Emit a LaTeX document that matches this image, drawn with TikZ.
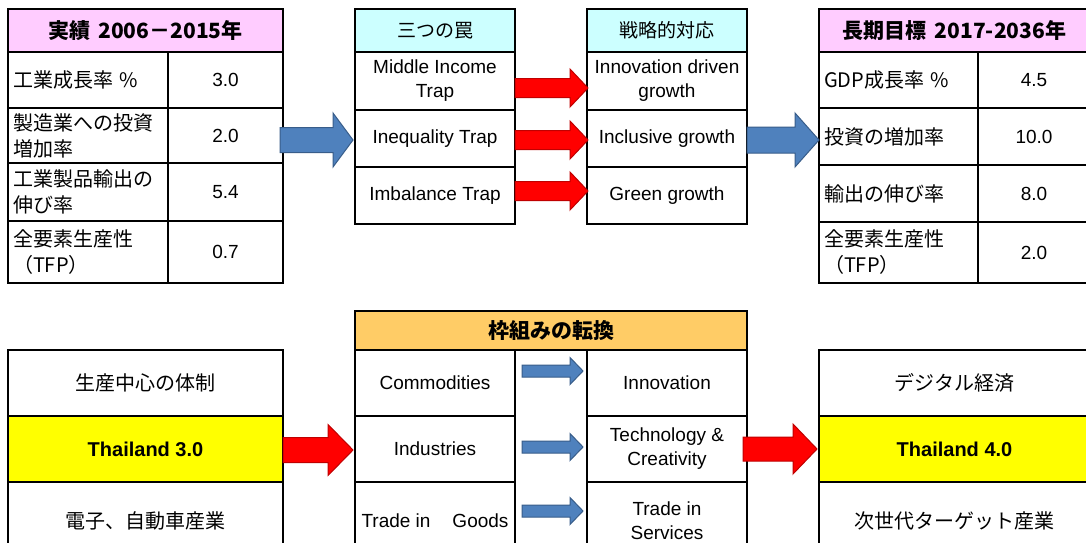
\documentclass[tikz,border=0pt]{standalone}
\usepackage{fontspec}
\setmainfont{Liberation Sans}
\newfontfamily\jp{Noto Sans CJK JP}
\definecolor{hpink}{HTML}{FFCCFF}
\definecolor{hcyan}{HTML}{CCFFFF}
\definecolor{horange}{HTML}{FFCC66}
\definecolor{hyellow}{HTML}{FFFF00}
\definecolor{bfill}{HTML}{4F81BD}
\definecolor{bdraw}{HTML}{385D8A}
\definecolor{rfill}{HTML}{FF0000}
\definecolor{rdraw}{HTML}{C00000}
\tikzset{
  cellsty/.style={draw=black,line width=1.8pt,inner sep=0pt,align=center,font=\fontsize{19}{24}\selectfont},
  jpt/.style={font=\jp\fontsize{20}{26}\selectfont},
  jph/.style={font=\jp\fontsize{19}{24}\selectfont},
  jpb/.style={font=\jp\bfseries\fontsize{21}{25}\selectfont},
  thai/.style={font=\bfseries\fontsize{20}{24}\selectfont},
  bluearr/.style={fill=bfill,draw=bdraw,line width=1pt,line join=miter},
  redarr/.style={fill=rfill,draw=rdraw,line width=1pt,line join=miter}
}
% box cell: name, x1, y1, x2, y2, options, text
\newcommand\cellbox[7]{\node[cellsty,#6,minimum width={(#4-#2)*1pt},minimum height={(#5-#3)*1pt}] (#1) at ({(#2+#4)/2},{(#3+#5)/2}) {#7};}
\newcommand\lcellbox[7]{\node[cellsty,#6,align=left,text width={(#4-#2-10)*1pt},minimum width={(#4-#2)*1pt},minimum height={(#5-#3)*1pt}] (#1) at ({(#2+#4)/2},{(#3+#5)/2}) {#7};}
% block arrow: style, x start, x end, y centre, body half, head half, head length
\newcommand\blockarrow[7]{\draw[#1] (#2,#4-#5) -- (#3-#7,#4-#5) -- (#3-#7,#4-#6) -- (#3,#4) -- (#3-#7,#4+#6) -- (#3-#7,#4+#5) -- (#2,#4+#5) -- cycle;}
\begin{document}
\begin{tikzpicture}[x=1pt,y=-1pt]
\useasboundingbox (0,0) rectangle (1086,542);
\clip (0,0) rectangle (1086,542);
\fill[white] (0,0) rectangle (1086,542);
% ---- top left table
\cellbox{lh}{8}{9}{283}{52}{fill=hpink,jpb}{実績\hspace{8pt}2006－2015年}
\lcellbox{l1}{8}{52}{168}{108}{jpt}{工業成長率 \%}
\cellbox{l1v}{168}{52}{283}{108}{}{3.0}
\lcellbox{l2}{8}{108}{168}{163}{jpt}{製造業への投資\\増加率}
\cellbox{l2v}{168}{108}{283}{163}{}{2.0}
\lcellbox{l3}{8}{163}{168}{221}{jpt}{工業製品輸出の\\伸び率}
\cellbox{l3v}{168}{163}{283}{221}{}{5.4}
\lcellbox{l4}{8}{221}{168}{283}{jpt}{全要素生産性\\（TFP）}
\cellbox{l4v}{168}{221}{283}{283}{}{0.7}
% ---- top middle
\cellbox{th}{355}{9}{515}{52}{fill=hcyan,jph}{三つの罠}
\cellbox{t1}{355}{52}{515}{110}{}{Middle Income\\Trap}
\cellbox{t2}{355}{110}{515}{167}{}{Inequality Trap}
\cellbox{t3}{355}{167}{515}{224}{}{Imbalance Trap}
\cellbox{sh}{587}{9}{747}{52}{fill=hcyan,jph}{戦略的対応}
\cellbox{s1}{587}{52}{747}{110}{}{Innovation driven\\growth}
\cellbox{s2}{587}{110}{747}{167}{}{Inclusive growth}
\cellbox{s3}{587}{167}{747}{224}{}{Green growth}
% ---- top right table
\cellbox{rh}{819}{9}{1090}{52}{fill=hpink,jpb}{長期目標\hspace{8pt}2017-2036年}
\lcellbox{r1}{819}{52}{978}{108}{jpt}{GDP成長率 \%}
\cellbox{r1v}{978}{52}{1090}{108}{}{4.5}
\lcellbox{r2}{819}{108}{978}{165}{jpt}{投資の増加率}
\cellbox{r2v}{978}{108}{1090}{165}{}{10.0}
\lcellbox{r3}{819}{165}{978}{222}{jpt}{輸出の伸び率}
\cellbox{r3v}{978}{165}{1090}{222}{}{8.0}
\lcellbox{r4}{819}{222}{978}{283}{jpt}{全要素生産性\\（TFP）}
\cellbox{r4v}{978}{222}{1090}{283}{}{2.0}
% ---- bottom left
\cellbox{b1}{8}{350}{283}{416}{jpt}{生産中心の体制}
\cellbox{b2}{8}{416}{283}{482}{fill=hyellow,thai}{Thailand 3.0}
\cellbox{b3}{8}{482}{283}{560}{jpt}{電子、自動車産業}
% ---- bottom middle
\cellbox{fh}{355}{311}{747}{350}{fill=horange,jpb}{枠組みの転換}
\cellbox{f1}{355}{350}{515}{416}{}{Commodities}
\cellbox{f2}{355}{416}{515}{482}{}{Industries}
\cellbox{f3}{355}{482}{515}{560}{}{Trade in\hspace{22pt}Goods}
\cellbox{g1}{587}{350}{747}{416}{}{Innovation}
\cellbox{g2}{587}{416}{747}{482}{}{Technology \&\\Creativity}
\cellbox{g3}{587}{482}{747}{560}{}{Trade in\\Services}
% ---- bottom right
\cellbox{c1}{819}{350}{1090}{416}{jpt}{デジタル経済}
\cellbox{c2}{819}{416}{1090}{482}{fill=hyellow,thai}{Thailand 4.0}
\cellbox{c3}{819}{482}{1090}{560}{jpt}{次世代ターゲット産業}
% ---- arrows
\blockarrow{bluearr}{280}{353}{140}{12.5}{27}{20}
\blockarrow{bluearr}{747}{819}{140}{13}{27}{24}
\blockarrow{redarr}{515}{588}{88}{9.5}{19}{18}
\blockarrow{redarr}{515}{588}{140}{9.5}{19}{18}
\blockarrow{redarr}{515}{588}{191}{9.5}{19}{18}
\blockarrow{redarr}{283}{353}{450}{12.5}{25.5}{25}
\blockarrow{redarr}{743}{817}{449}{12}{25}{24}
\blockarrow{bluearr}{522}{583}{371}{6}{13.5}{13}
\blockarrow{bluearr}{522}{583}{447}{6}{13.5}{13}
\blockarrow{bluearr}{522}{583}{511}{6}{13.5}{13}
\end{tikzpicture}
\end{document}
